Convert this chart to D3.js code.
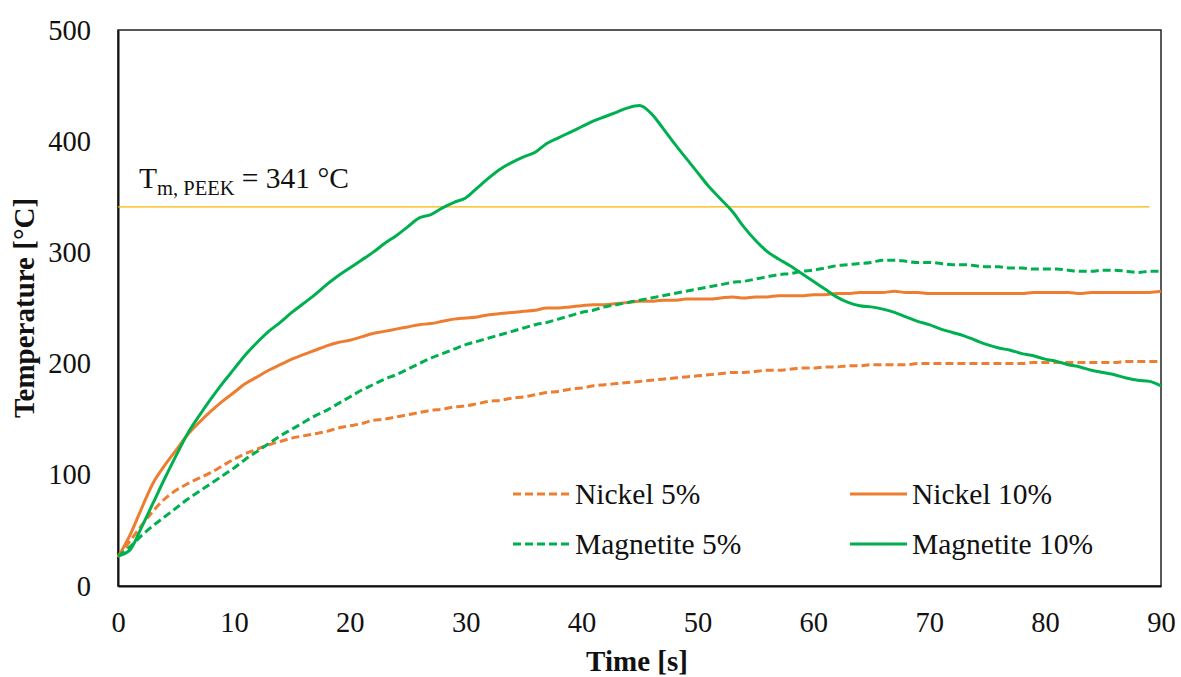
<!DOCTYPE html>
<html>
<head>
<meta charset="utf-8">
<script src="https://cdn.jsdelivr.net/npm/d3@7"></script>
<style>
  html, body { margin: 0; padding: 0; background: #fff; }
  svg { display: block; font-family: "Liberation Serif", "Times New Roman", serif; }
</style>
</head>
<body>
<svg id="chart" width="1181" height="677"></svg>
<script>
// ---- data ----
const time = d3.range(0, 91, 1);

const nickel5 = [26,40,54,67,78,86,92,97,102,108,114,119,123,127,130,133,135,137,139,142,
  144,146,149,150,152,154,156,158,159,161,162,164,166,167,169,170,172,174,175,177,
  178,180,181,182,183,184,185,186,187,188,189,190,191,192,192,193,194,194,195,196,
  196,197,197,198,198,199,199,199,199,200,200,200,200,200,200,200,200,200,200,201,
  201,201,201,201,201,201,201,202,202,202,202];

const nickel10 = [26,45,69,92,108,122,136,147,157,166,174,182,188,194,199,204,208,212,216,219,
  221,224,227,229,231,233,235,236,238,240,241,242,244,245,246,247,248,250,250,251,
  252,253,253,254,255,256,256,257,257,258,258,258,259,260,259,260,260,261,261,261,
  262,262,263,263,264,264,264,265,264,264,263,263,263,263,263,263,263,263,263,264,
  264,264,264,263,264,264,264,264,264,264,265];

const magnetite5 = [27,35,45,54,62,70,78,85,92,99,106,114,121,128,135,141,147,153,158,164,
  170,176,181,186,190,195,200,205,209,213,217,220,223,226,229,232,235,237,240,243,
  246,248,251,253,255,257,259,261,263,265,267,269,271,273,274,276,278,280,281,283,
  284,286,288,289,290,291,293,293,292,291,291,290,289,289,288,287,287,286,286,285,
  285,285,284,283,283,284,284,283,282,283,283];

const magnetite10 = [27,32,52,74,96,117,137,153,168,182,195,208,219,229,237,246,254,262,271,279,
  286,293,300,308,315,323,331,334,340,345,349,358,367,375,381,386,390,398,403,408,
  413,418,422,426,430,432,425,412,398,385,372,359,348,337,323,311,301,294,288,281,
  274,267,260,255,252,251,249,246,242,238,235,231,228,225,221,217,214,212,209,207,
  204,202,199,197,194,192,190,187,185,184,180];

const seriesNames = ["Nickel 5%", "Nickel 10%", "Magnetite 5%", "Magnetite 10%"];
const seriesValues = [nickel5, nickel10, magnetite5, magnetite10];
const seriesColors = ["#ED7D31", "#ED7D31", "#00B050", "#00B050"];
const seriesDashed = [true, false, true, false];

const xTicks = [0,10,20,30,40,50,60,70,80,90];
const yTicks = [0,100,200,300,400,500];

const tmValue = 341;
const tmSpan = [0, 89];

// ---- layout ----
const svg = d3.select("#chart");
const L = 118, R = 1161, T = 30, B = 586;

const x = d3.scaleLinear().domain([0, 90]).range([L, R]);
const y = d3.scaleLinear().domain([0, 500]).range([B, T]);

// plot border
svg.append("rect")
  .attr("x", L).attr("y", T).attr("width", R - L).attr("height", B - T)
  .attr("fill", "none").attr("stroke", "#222").attr("stroke-width", 1.5);

// axes (labels only, no tick marks)
const xAxis = svg.append("g").attr("transform", `translate(0,${B})`)
  .call(d3.axisBottom(x).tickValues(xTicks).tickSize(0).tickPadding(26));
const yAxis = svg.append("g").attr("transform", `translate(${L},0)`)
  .call(d3.axisLeft(y).tickValues(yTicks).tickSize(0).tickPadding(27));
[xAxis, yAxis].forEach(g => {
  g.select(".domain").attr("stroke", "#111").attr("stroke-width", 2);
  g.selectAll("text").attr("font-family", "Liberation Serif")
    .attr("font-size", 28.5).attr("fill", "#111");
});

// axis titles
svg.append("text")
  .attr("x", 637).attr("y", 671)
  .attr("text-anchor", "middle")
  .attr("font-size", 29).attr("font-weight", "bold").attr("fill", "#111")
  .text("Time [s]");
svg.append("text")
  .attr("transform", `translate(34,${(T + B) / 2}) rotate(-90)`)
  .attr("text-anchor", "middle")
  .attr("font-size", 29).attr("font-weight", "bold").attr("fill", "#111")
  .text("Temperature [°C]");

// Tm line
svg.append("line")
  .attr("x1", x(tmSpan[0])).attr("x2", x(tmSpan[1]))
  .attr("y1", y(tmValue)).attr("y2", y(tmValue))
  .attr("stroke", "#F5B400").attr("stroke-width", 1.2);

const tmLabel = svg.append("text")
  .attr("x", 139).attr("y", 188)
  .attr("font-size", 29.5).attr("fill", "#111");
tmLabel.append("tspan").text("T");
tmLabel.append("tspan").attr("font-size", 20.5).attr("dy", 7).text("m, PEEK");
tmLabel.append("tspan").attr("dy", -7).text(" = 341 °C");

// series lines
const line = d3.line()
  .x((d, i) => x(time[i]))
  .y(d => y(d))
  .curve(d3.curveMonotoneX);

seriesValues.forEach((vals, k) => {
  svg.append("path")
    .datum(vals)
    .attr("d", line)
    .attr("fill", "none")
    .attr("stroke", seriesColors[k])
    .attr("stroke-width", 3)
    .attr("stroke-linejoin", "round")
    .attr("stroke-dasharray", seriesDashed[k] ? "8,4" : null);
});

// legend
const legPos = [[513, 494], [850, 494], [513, 544], [850, 544]];
seriesNames.forEach((name, k) => {
  const [lx, ly] = legPos[k];
  svg.append("line")
    .attr("x1", lx).attr("x2", lx + 57)
    .attr("y1", ly).attr("y2", ly)
    .attr("stroke", seriesColors[k]).attr("stroke-width", 3)
    .attr("stroke-dasharray", seriesDashed[k] ? "8,4" : null);
  svg.append("text")
    .attr("x", lx + 62).attr("y", ly + 10)
    .attr("font-size", 29.5).attr("fill", "#111")
    .text(name);
});
</script>
</body>
</html>
